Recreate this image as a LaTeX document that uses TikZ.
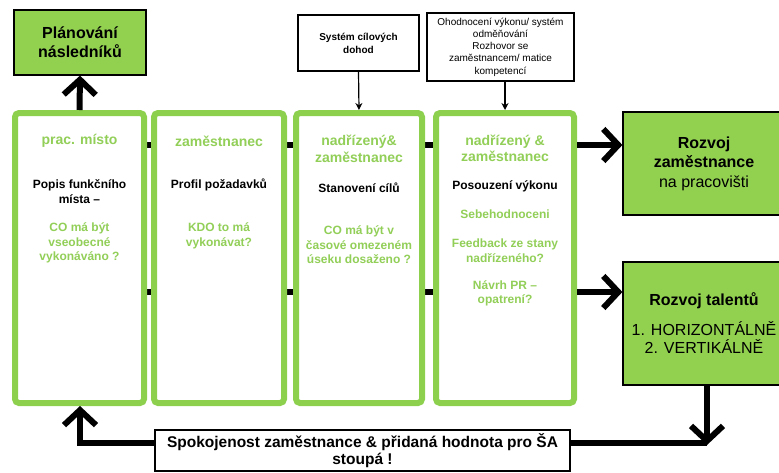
\documentclass[tikz,border=0pt]{standalone}
\usepackage{fontspec}
\setmainfont{Liberation Sans}
\usetikzlibrary{arrows.meta}
\definecolor{cgreen}{HTML}{8CD04E}
\definecolor{tgreen}{HTML}{92CF58}
\definecolor{bgreen}{HTML}{92D050}
\tikzset{
  col/.style={draw=cgreen, line width=6pt, fill=white, rounded corners=4pt, minimum width=#1, minimum height=290pt, inner sep=0pt},
  hdr/.style={text=tgreen, font=\fontsize{14}{16.5}\selectfont\bfseries, align=center, inner sep=0pt},
  blk/.style={font=\fontsize{12}{15}\selectfont\bfseries, align=center, inner sep=0pt},
  grn/.style={text=tgreen, font=\fontsize{12}{14.5}\selectfont\bfseries, align=center, inner sep=0pt},
  gbox/.style={draw=black, line width=1.2pt, fill=bgreen, align=center, inner sep=0pt},
  wbox/.style={draw=black, line width=1.2pt, fill=white, align=center, inner sep=0pt},
  bighead/.style={-{Straight Barb[length=15pt,width=32pt]}},
  thick arrow/.style={line width=6pt, bighead},
  thin arrow/.style={line width=1.2pt, -{Stealth[length=7pt,width=7pt]}},
  bar/.style={line width=6pt},
}
\begin{document}
\begin{tikzpicture}[x=1pt,y=-1pt]
\useasboundingbox (0,0) rectangle (779,472);

% thick black bars behind the columns
\coordinate (b1s) at (15,145);
\coordinate (b1e) at (574,145);
\coordinate (b2s) at (15,292);
\coordinate (b2e) at (574,292);
\draw[bar] (b1s) -- (b1e);
\draw[bar] (b2s) -- (b2e);

% columns
\node[col=129pt] (c1) at (79.5,258) {};
\node[col=130pt] (c2) at (219,258) {};
\node[col=126pt] (c3) at (359,258) {};
\node[col=138pt] (c4) at (505,258) {};

% column 1
\node[hdr] (h1) at (79.5,141) {prac. místo};
\node[blk] (k1) at (79.5,191.5) {Popis funkčního\\místa –};
\node[grn] (g1) at (79.5,243) {CO má být\\vseobecné\\vykonáváno ?};

% column 2
\node[hdr] (h2) at (219,141) {zaměstnanec};
\node[blk] (k2) at (219,185) {Profil požadavků};
\node[grn] (g2) at (219,236) {KDO to má\\vykonávat?};

% column 3
\node[hdr] (h3) at (359,149) {nadřízený\&\\zaměstnanec};
\node[blk] (k3) at (359,188) {Stanovení cílů};
\node[grn] (g3) at (359,245) {CO má být v\\časové omezeném\\úseku dosaženo ?};

% column 4
\node[hdr] (h4) at (505,148.5) {nadřízený \&\\zaměstnanec};
\node[blk] (k4) at (505,186) {Posouzení výkonu};
\node[grn] (g4a) at (505,214) {Sebehodnoceni};
\node[grn] (g4b) at (505,250.5) {Feedback ze stany\\nadřízeného?};
\node[grn] (g4c) at (505,293.5) {Návrh PR –\\opatrení?};

% top-left green box
\node[gbox, minimum width=132pt, minimum height=65pt, font=\fontsize{16}{19}\selectfont\bfseries] (plan) at (80,42.5) {Plánování\\následníků};

% top white boxes
\node[wbox, minimum width=121pt, minimum height=56pt, font=\fontsize{10}{13}\selectfont\bfseries] (sys) at (358.5,43) {Systém cílových\\dohod};
\node[wbox, minimum width=147pt, minimum height=68pt, font=\fontsize{10}{12.3}\selectfont] (ohod) at (500.5,47) {Ohodnocení výkonu/ systém\\odměňování\\Rozhovor se\\zaměstnancem/ matice\\kompetencí};

% right green boxes
\node[gbox, minimum width=162pt, minimum height=103pt, font=\fontsize{16}{19.5}\selectfont] (rz) at (704,163.5) {\textbf{Rozvoj}\\\textbf{zaměstnance}\\na pracovišti};
\node[gbox, minimum width=162pt, minimum height=123pt, font=\fontsize{16}{18.5}\selectfont] (rt) at (704,323.5) {\textbf{Rozvoj talentů}\\[11pt]1. HORIZONTÁLNĚ\\2. VERTIKÁLNĚ};

% bottom box
\node[wbox, minimum width=415pt, minimum height=41pt, font=\fontsize{15.5}{17}\selectfont\bfseries] (spok) at (362.5,450.5) {Spokojenost zaměstnance \& přidaná hodnota pro ŠA\\stoupá !};

% connectors
\draw[thick arrow] (c1.north) -- (plan.south);
\draw[thin arrow] (sys.south) -- (c3.north);
\draw[thin arrow] (c4.north |- ohod.south) -- (c4.north);
\draw[thick arrow] (c4.east |- b1e) -- (rz.west |- b1e);
\draw[thick arrow] (c4.east |- b2e) -- (rt.west |- b2e);
\coordinate (rb) at (707,445);
\draw[thick arrow] (rt.south -| rb) -- (rb);
\draw[line width=6pt] (spok.east |- 0,443) -- (707,443);
\coordinate (lb) at (80,443);
\draw[line width=6pt, bighead, line join=miter] (spok.west |- lb) -- (lb) -- (c1.south -| lb);
\end{tikzpicture}
\end{document}
